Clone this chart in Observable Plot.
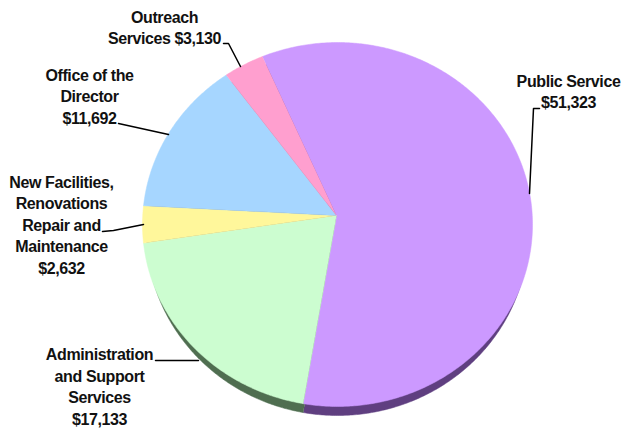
<!DOCTYPE html>
<html><head><meta charset="utf-8">
<script src="https://cdn.jsdelivr.net/npm/d3@7"></script>
<script src="https://cdn.jsdelivr.net/npm/@observablehq/plot@0.6"></script>
<style>html,body{margin:0;padding:0;background:#fff}</style>
</head><body><div id="chart"></div>
<script>
// Data
const names = ["Public Service", "Administration\nand Support\nServices", "New Facilities,\nRenovations\nRepair and\nMaintenance", "Office of the\nDirector", "Outreach\nServices"];
const values = [51323, 17133, 2632, 11692, 3130];
const seps = ["\n", "\n", "\n", "\n", " "];
const colors = ["#cc99ff", "#ccfdd0", "#fff79b", "#a6d6ff", "#ff9fcf"];
const rimColors = ["#5f3f80", "#4f6e50", "#777", "#777", "#777"];

// Layout (pixels of the picture)
const labelX = [568, 99, 61, 89, 164];
const labelY = [90, 385, 223.5, 95, 26];
const leaders = [
  [[539,108],[533,108],[529,193]],
  [[155,360],[198,360]],
  [[102,231],[113,230],[143,224]],
  [[118,123],[168,134]],
  [[223,43],[228,43],[240,66]]
];
const cx = 337, cy = 224, rx = 195, ry = 182, apexX = 336, apexY = 215, depth = 9, startDeg = -25;

// a ray from the apex to the tilted disc's edge
function edge(a, rxx) {
  const dx = Math.sin(a), dy = -Math.cos(a), ox = apexX - cx, oy = apexY - cy;
  const A = dx*dx/(rxx*rxx) + dy*dy/(ry*ry),
        B = 2*(ox*dx/(rxx*rxx) + oy*dy/(ry*ry)),
        C = ox*ox/(rxx*rxx) + oy*oy/(ry*ry) - 1;
  const t = (-B + Math.sqrt(B*B - 4*A*C)) / (2*A);
  return [apexX + t*dx, apexY + t*dy];
}
const arcs = d3.pie().sort(null).startAngle(startDeg*Math.PI/180).endAngle((startDeg+360)*Math.PI/180)(values);
const keys = names.concat(names.map(n => "rim " + n));
const poly = [], rim = [];
arcs.forEach((arc, i) => {
  const n = Math.max(2, Math.ceil((arc.endAngle - arc.startAngle) / 0.01));
  const pts = [[apexX, apexY]];
  const rpts = [[apexX, apexY + depth]];
  for (let k = 0; k <= n; k++) {
    const a = arc.startAngle + (arc.endAngle - arc.startAngle) * k / n;
    pts.push(edge(a, rx));
    const e = edge(a, rx - 4);
    rpts.push([e[0], e[1] + depth]);
  }
  pts.forEach(p => poly.push({x: p[0], y: p[1], key: names[i]}));
  rpts.forEach(p => rim.push({x: p[0], y: p[1], key: "rim " + names[i]}));
});
const leaderRows = leaders.flatMap((l, i) => l.map(p => ({x: p[0], y: p[1], i})));
const labels = names.map((n, i) => ({
  text: n + seps[i] + d3.format("$,")(values[i]), x: labelX[i], y: labelY[i]
}));

const chart = Plot.plot({
  width: 623, height: 430, margin: 0,
  x: {domain: [0, 623], range: [0, 623], axis: null},
  y: {domain: [0, 430], range: [0, 430], axis: null},
  color: {type: "ordinal", domain: keys, range: colors.concat(rimColors)},
  style: {background: "#fff", fontFamily: "'Liberation Sans', Arial, sans-serif", letterSpacing: "-0.4px"},
  marks: [
    Plot.line(rim, {x: "x", y: "y", z: "key", fill: "key", stroke: "key", strokeWidth: 0.5}),
    Plot.line(poly, {x: "x", y: "y", z: "key", fill: "key", stroke: "key", strokeWidth: 0.5}),
    Plot.line(leaderRows, {x: "x", y: "y", z: "i", stroke: "#000", strokeWidth: 1.5}),
    Plot.text(labels, {x: "x", y: "y", text: "text", fontSize: 16, fontWeight: "bold", lineHeight: 1.34, fill: "#111", textAnchor: "middle", lineAnchor: "middle"})
  ]
});
document.getElementById("chart").append(chart);
</script></body></html>
